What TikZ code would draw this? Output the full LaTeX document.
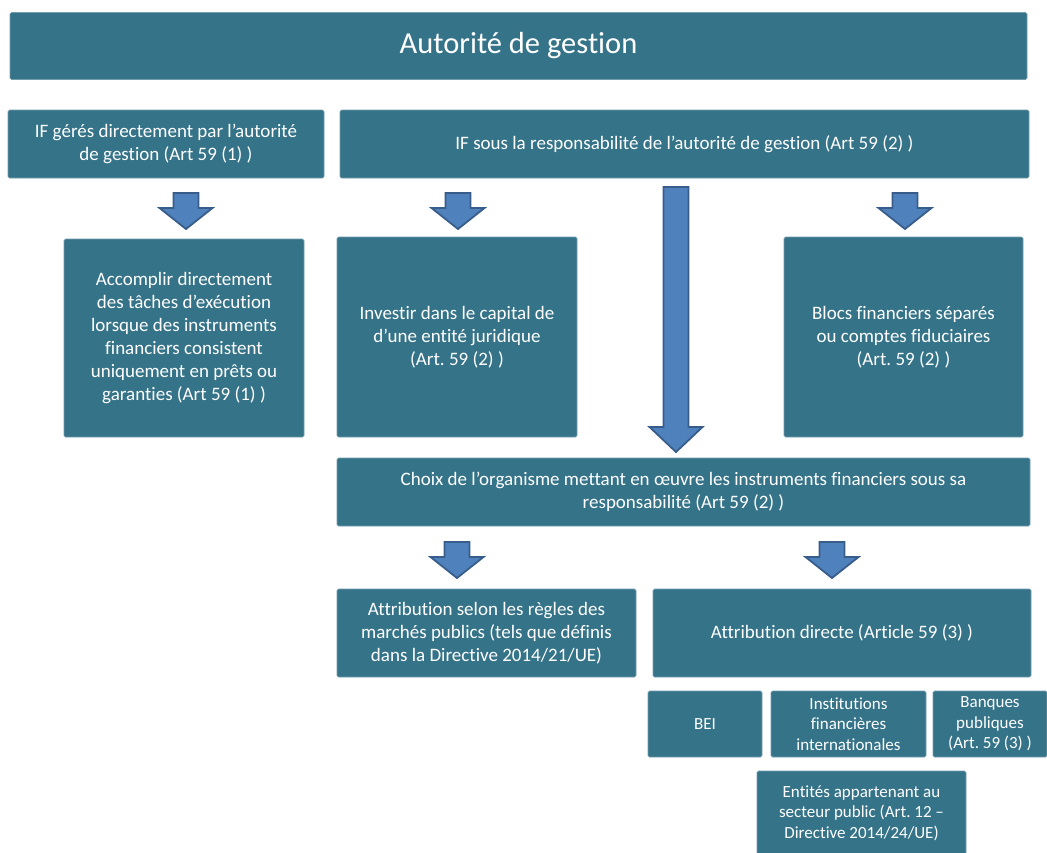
\documentclass[tikz,border=0pt]{standalone}
\usepackage{fontspec}
\setmainfont{Carlito}[Ligatures=NoCommon]
\usepackage{tikz}
\usetikzlibrary{positioning}
\frenchspacing

\definecolor{boxteal}{RGB}{53,115,137}
\definecolor{arrowfill}{RGB}{79,129,189}
\definecolor{arrowline}{RGB}{56,93,138}

% block arrow pointing down: {x}{top}{tip}{head length}
\newcommand{\dnarrow}[4]{%
  \draw[blockarrow] ({#1-12.5},#2) -- ({#1+12.5},#2) -- ({#1+12.5},{#3-#4})
    -- ({#1+26.5},{#3-#4}) -- (#1,#3) -- ({#1-26.5},{#3-#4})
    -- ({#1-12.5},{#3-#4}) -- cycle;}

\begin{document}
\begin{tikzpicture}[
    x=1pt, y=-1pt,
    box/.style={rectangle, rounded corners=1.5pt, fill=boxteal, draw=boxteal!70!white, line width=0.6pt,
      text=white, align=center, inner sep=0pt, font=\fontsize{19}{23}\selectfont},
    smallbox/.style={box, font=\fontsize{17}{20.5}\selectfont},
    blockarrow/.style={fill=arrowfill, draw=arrowline, line width=1.8pt, line join=miter}
    ]
        \useasboundingbox (0,0) rectangle (1047,852);

        %Boxes
        \node[box, minimum width=1017pt, minimum height=67pt, font=\fontsize{30.5}{34}\selectfont]
            (autorite) at (518.5,46) {Autorité de gestion};
        \node[box, minimum width=316pt, minimum height=68pt]
            (ifdirect) at (166,144) {IF gérés directement par l’autorité\\de gestion (Art 59 (1) )};
        \node[box, minimum width=689pt, minimum height=68pt]
            (ifresp) at (684.5,144) {IF sous la responsabilité de l’autorité de gestion (Art 59 (2) )};
        \node[box, minimum width=240pt, minimum height=198pt]
            (accomplir) at (184,338) {Accomplir directement\\des tâches d’exécution\\lorsque des instruments\\financiers consistent\\uniquement en prêts ou\\garanties (Art 59 (1) )};
        \node[box, minimum width=240pt, minimum height=200pt]
            (investir) at (457,337) {Investir dans le capital de\\d’une entité juridique\\(Art. 59 (2) )};
        \node[box, minimum width=239pt, minimum height=200pt]
            (blocs) at (903.5,337) {Blocs financiers séparés\\ou comptes fiduciaires\\(Art. 59 (2) )};
        \node[box, minimum width=693pt, minimum height=68pt]
            (choix) at (683.5,492) {Choix de l’organisme mettant en œuvre les instruments financiers sous sa\\responsabilité (Art 59 (2) )};
        \node[box, minimum width=299pt, minimum height=88pt]
            (marches) at (486.5,633) {Attribution selon les règles des\\marchés publics (tels que définis\\dans la Directive 2014/21/UE)};
        \node[box, minimum width=378pt, minimum height=88pt]
            (directe) at (842,633) {Attribution directe (Article 59 (3) )};
        \node[smallbox, minimum width=114pt, minimum height=66pt]
            (bei) at (705,724) {BEI};
        \node[smallbox, minimum width=155pt, minimum height=66pt]
            (ifi) at (848.5,724) {Institutions\\financières\\internationales};
        \node[smallbox, minimum width=114pt, minimum height=66pt]
            (banques) at (990,724) {Banques\\publiques\\(Art. 59 (3) )};
        \node[smallbox, minimum width=209pt, minimum height=84pt]
            (entites) at (861.5,813) {Entités appartenant au\\secteur public (Art. 12 –\\Directive 2014/24/UE)};

        %Arrows
        \dnarrow{186}{193}{229}{21}
        \dnarrow{458}{193}{229}{21}
        \dnarrow{905}{193}{229}{21}
        \dnarrow{676}{187}{452}{25}
        \dnarrow{457}{542}{578}{21}
        \dnarrow{832}{542}{578}{21}
    \end{tikzpicture}
\end{document}
